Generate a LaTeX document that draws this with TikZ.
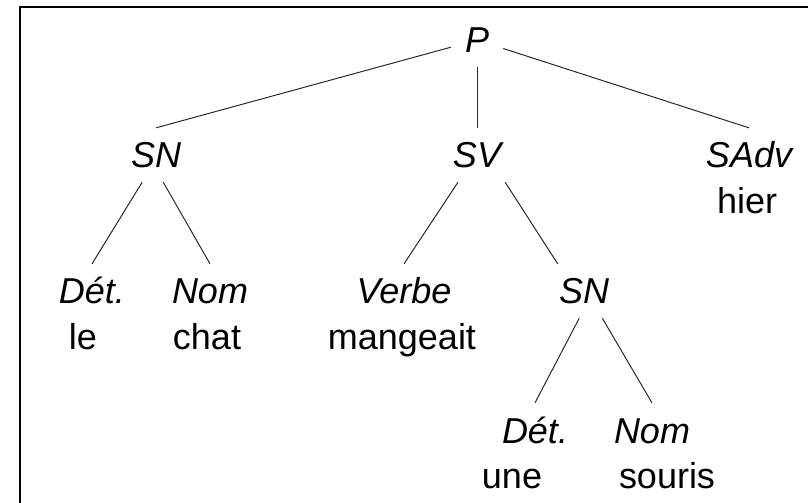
\documentclass[tikz,border=0pt]{standalone}
\usepackage{fontspec}
\setmainfont{Liberation Sans}
\usepackage{tikz}

\tikzset{
  cat/.style={anchor=base, font=\fontsize{25.6}{31}\selectfont\itshape,
    text height=18.4pt, text depth=0pt, inner xsep=0.35cm, inner ysep=0.35cm},
  word/.style={anchor=base, font=\fontsize{25.6}{31}\selectfont},
  branch/.style={line width=0.7pt, black!85}
}

\begin{document}
\begin{tikzpicture}
  \clip (0,0) rectangle (20.2,12.55);
  \draw[line width=1.4pt] (21,12.375) -- (0.5,12.375) -- (0.5,-1);
  \foreach \x/\y/\t/\n in {11.925/11.225/P/p, 3.9/8.35/SN/sn, 11.925/8.35/SV/sv,
      18.725/8.35/SAdv/sadv, 2.3/4.95/Dét./det, 5.25/4.95/Nom/nom,
      10.1/4.95/Verbe/verbe, 14.6/4.95/SN/sn2, 13.375/1.475/Dét./det2,
      16.3/1.475/Nom/nom2}
    \node[cat] (\n) at (\x,\y) {\t};
  \foreach \x/\y/\t/\n in {18.675/7.2/hier/hier, 2.075/3.8/le/le,
      5.175/3.8/chat/chat, 10.05/3.8/mangeait/mangeait, 12.8/0.35/une/une,
      16.675/0.35/souris/souris}
    \node[word] (\n) at (\x,\y) {\t};
  \draw[branch] (p) -- (sn.north);
  \draw[branch] (p) -- (sv);
  \draw[branch] (p) -- (sadv.north);
  \draw[branch] (sn.-117) -- (det.north);
  \draw[branch] (sn.-75) -- (nom.north);
  \draw[branch] (sv.-125) -- (verbe.north);
  \draw[branch] (sv.-44) -- (sn2.134);
  \draw[branch] (sn2.-100) -- (det2.north);
  \draw[branch] (sn2.-56) -- (nom2.north);
\end{tikzpicture}
\end{document}
